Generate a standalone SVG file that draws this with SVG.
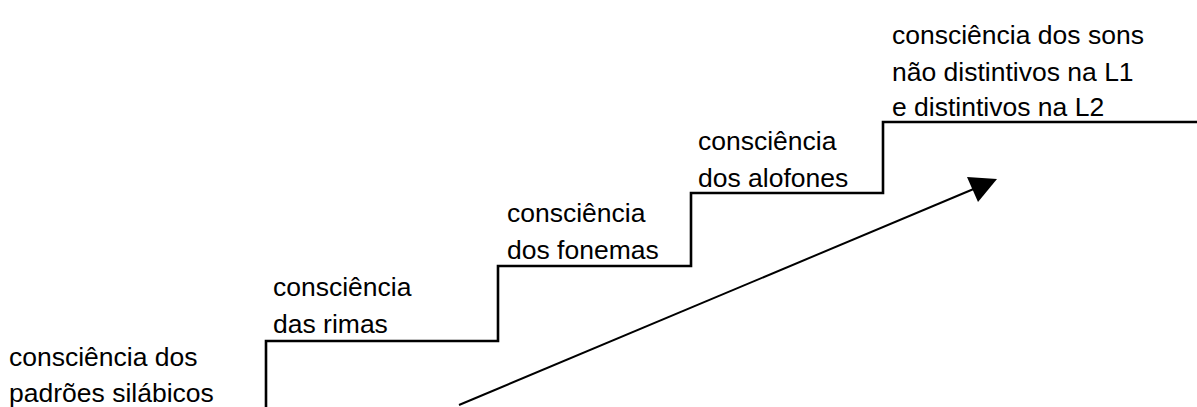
<svg xmlns="http://www.w3.org/2000/svg" width="1197" height="407" viewBox="0 0 1197 407">
<style>
text{font-family:"Liberation Sans",Arial,sans-serif;font-size:26.5px;fill:#000}
.stair{fill:none;stroke:#000;stroke-width:2.6}
.arr{fill:none;stroke:#000;stroke-width:2}
</style>
<rect width="1197" height="407" fill="#fff"/>
<g id="connectors">
<path class="stair" d="M266,407 V341 H498 V266 H691 V193 H883 V122 H1197"/>
<line class="arr" x1="459" y1="405" x2="976" y2="188"/>
<polygon points="997,179 967,177 978,202" fill="#000"/>
</g>
<g id="n1"><text x="9" y="366">consciência dos</text><text x="9" y="402">padrões silábicos</text></g>
<g id="n2"><text x="273" y="296">consciência</text><text x="273" y="333">das rimas</text></g>
<g id="n3"><text x="507" y="222">consciência</text><text x="507" y="259">dos fonemas</text></g>
<g id="n4"><text x="698" y="150">consciência</text><text x="698" y="187">dos alofones</text></g>
<g id="n5"><text x="892" y="44">consciência dos sons</text><text x="892" y="81">não distintivos na L1</text><text x="892" y="116">e distintivos na L2</text></g>
</svg>
